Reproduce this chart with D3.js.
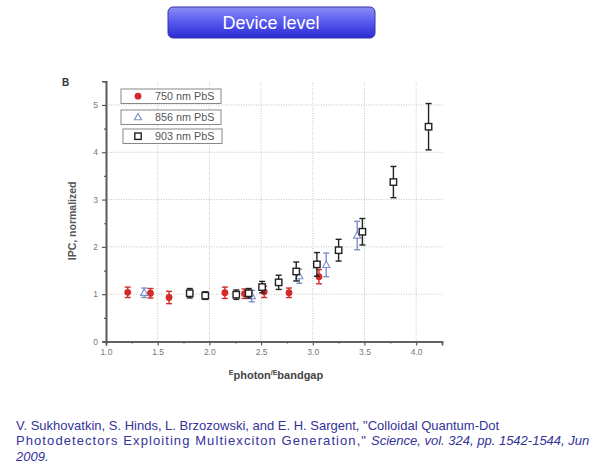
<!DOCTYPE html>
<html><head><meta charset="utf-8">
<script src="https://cdn.jsdelivr.net/npm/d3@7"></script>
<style>
html,body{margin:0;padding:0;background:#fff;}
svg{display:block;}
</style></head>
<body>
<script>
// ---- data ----
const seriesNames = ["750 nm PbS", "856 nm PbS", "903 nm PbS"];
// [x, y, error]
const pbs750 = [[1.21,1.04,0.11],[1.43,1.02,0.10],[1.61,0.93,0.13],[2.15,1.03,0.12],[2.34,1.01,0.10],[2.53,1.05,0.12],[2.77,1.03,0.10],[3.06,1.37,0.15]];
const pbs856 = [[1.37,1.03,0.10],[2.41,0.96,0.12],[2.87,1.38,0.15],[3.13,1.62,0.25],[3.43,2.24,0.30]];
const pbs903 = [[1.81,1.02,0.10],[1.96,0.97,0.08],[2.26,0.99,0.10],[2.38,1.02,0.10],[2.51,1.15,0.12],[2.67,1.25,0.15],[2.84,1.48,0.20],[3.04,1.63,0.25],[3.25,1.93,0.23],[3.48,2.32,0.28],[3.78,3.37,0.33],[4.12,4.54,0.49]];
const xTicks = [1.0,1.5,2.0,2.5,3.0,3.5,4.0];
const yTicks = [0,1,2,3,4,5];
const titleText = "Device level";
const citeLine1 = "V. Sukhovatkin, S. Hinds, L. Brzozowski, and E. H. Sargent, \"Colloidal Quantum-Dot";
const citeLine2a = "Photodetectors Exploiting Multiexciton Generation,\"";
const citeLine2b = "Science, vol. 324, pp. 1542-1544, Jun";
const citeLine3 = "2009.";

const W = 598, H = 468;
const svg = d3.select("body").append("svg").attr("width", W).attr("height", H);
const defs = svg.append("defs");
const grad = defs.append("linearGradient").attr("id","btn").attr("x1",0).attr("y1",0).attr("x2",0).attr("y2",1);
grad.append("stop").attr("offset","0%").attr("stop-color","#8c8ef8");
grad.append("stop").attr("offset","45%").attr("stop-color","#5b5df0");
grad.append("stop").attr("offset","100%").attr("stop-color","#2a2ad2");

const font = "Liberation Sans, Arial, sans-serif";

// title button
svg.append("rect").attr("x",168).attr("y",7).attr("width",207).attr("height",31).attr("rx",5)
  .attr("fill","url(#btn)").attr("stroke","#3535a8").attr("stroke-width",1);
svg.append("text").attr("x",271).attr("y",29).attr("text-anchor","middle")
  .attr("font-family",font).attr("font-size",18).attr("fill","#ffffff")
  .text(titleText);

// scales
const x = d3.scaleLinear().domain([1.0, 4.25]).range([106, 442]);
const y = d3.scaleLinear().domain([0, 5.5]).range([341.5, 81.3]);

const g = svg.append("g");
// grid
g.selectAll(".gx").data(xTicks.filter(d=>d>1)).enter().append("line")
  .attr("x1",d=>x(d)).attr("x2",d=>x(d)).attr("y1",y(0)).attr("y2",y(5.5))
  .attr("stroke","#c4c4c4").attr("stroke-width",1).attr("stroke-dasharray","1,1.5");
g.selectAll(".gy").data(yTicks.filter(d=>d>0)).enter().append("line")
  .attr("x1",x(1)).attr("x2",x(4.25)).attr("y1",d=>y(d)).attr("y2",d=>y(d))
  .attr("stroke","#c4c4c4").attr("stroke-width",1).attr("stroke-dasharray","1,1.5");

// axes
const xAxis = g.append("g").attr("transform",`translate(0,${y(0)})`)
  .call(d3.axisBottom(x).tickValues(xTicks).tickFormat(d3.format(".1f")).tickSize(4).tickPadding(3));
const xMinor = g.append("g").attr("transform",`translate(0,${y(0)})`)
  .call(d3.axisBottom(x).tickValues(d3.range(1.25,4.3,0.5)).tickFormat("").tickSize(2));
const yAxis = g.append("g").attr("transform",`translate(${x(1)},0)`)
  .call(d3.axisLeft(y).tickValues(yTicks).tickFormat(d3.format("d")).tickSize(4).tickPadding(4));
const yMinor = g.append("g").attr("transform",`translate(${x(1)},0)`)
  .call(d3.axisLeft(y).tickValues(d3.range(0.5,5.5,1)).tickFormat("").tickSize(2));
[xAxis,xMinor,yAxis,yMinor].forEach(a=>{
  a.select(".domain").attr("stroke","#5a5a5a").attr("stroke-width",1.6);
  a.selectAll(".tick line").attr("stroke","#5a5a5a").attr("stroke-width",1.2);
  a.selectAll("text").attr("font-family",font).attr("font-size",8.5).attr("fill","#777");
});

// axis labels
svg.append("text").attr("transform",`translate(76,${y(2.55)}) rotate(-90)`).attr("text-anchor","middle")
  .attr("font-family",font).attr("font-size",10.5).attr("font-weight","bold").attr("fill","#555")
  .text("IPC, normalized");
const xl = svg.append("text").attr("x",276).attr("y",379).attr("text-anchor","middle")
  .attr("font-family",font).attr("font-weight","bold").attr("fill","#444").attr("font-size",11);
xl.append("tspan").attr("font-size",7).attr("dy",-4).text("E");
xl.append("tspan").attr("dy",4).text("photon");
xl.append("tspan").attr("font-size",7).attr("dy",-4).text("/E");
xl.append("tspan").attr("dy",4).text("bandgap");

svg.append("text").attr("x",62).attr("y",86).attr("font-family",font).attr("font-size",10)
  .attr("font-weight","bold").attr("fill","#333").text("B");

// data
const series = [
  {data:pbs750, color:"#d42a2a", shape:"circle"},
  {data:pbs856, color:"#7d8ec8", shape:"triangle"},
  {data:pbs903, color:"#222222", shape:"square"}
];
function drawMarker(sel, shape, color, cx, cy){
  if(shape==="circle"){
    sel.append("circle").attr("cx",cx).attr("cy",cy).attr("r",3.4).attr("fill",color);
  } else if(shape==="square"){
    sel.append("rect").attr("x",cx-3.2).attr("y",cy-3.2).attr("width",6.4).attr("height",6.4)
      .attr("fill","#fff").attr("stroke",color).attr("stroke-width",1.4);
  } else {
    sel.append("path").attr("d",`M${cx},${cy-3.8}L${cx+3.6},${cy+2.6}L${cx-3.6},${cy+2.6}Z`)
      .attr("fill","#fff").attr("stroke",color).attr("stroke-width",1.1);
  }
}
series.forEach(s=>{
  const sg = g.append("g");
  s.data.forEach(([dx,dy,e])=>{
    const cx = x(dx);
    sg.append("line").attr("x1",cx).attr("x2",cx).attr("y1",y(dy-e)).attr("y2",y(dy+e))
      .attr("stroke",s.color).attr("stroke-width",1.4);
    [dy-e,dy+e].forEach(v=>sg.append("line").attr("x1",cx-3).attr("x2",cx+3).attr("y1",y(v)).attr("y2",y(v))
      .attr("stroke",s.color).attr("stroke-width",1.4));
    drawMarker(sg, s.shape, s.color, cx, y(dy));
  });
});

// legend boxes
const legBoxes = [{x:121,y:89,w:100},{x:121,y:110,w:100},{x:123,y:129,w:99}];
series.forEach((s,i)=>{
  const b = legBoxes[i];
  svg.append("rect").attr("x",b.x).attr("y",b.y).attr("width",b.w).attr("height",14.5)
    .attr("fill","#fff").attr("stroke","#888").attr("stroke-width",1);
  drawMarker(svg, s.shape, s.color, 138, b.y+7.2);
  svg.append("text").attr("x",155).attr("y",b.y+11.3).attr("font-family",font).attr("font-size",10.8)
    .attr("fill","#555").text(seriesNames[i]);
});

// citation
const citeColor = "#33339a";
const cite = svg.append("g").attr("font-family",font).attr("font-size",13).attr("fill",citeColor);
cite.append("text").attr("x",16).attr("y",430).text(citeLine1);
cite.append("text").attr("x",16).attr("y",445).attr("textLength",350).attr("lengthAdjust","spacing").text(citeLine2a);
cite.append("text").attr("x",371).attr("y",445).attr("font-style","italic").text(citeLine2b);
cite.append("text").attr("x",16).attr("y",461).attr("font-style","italic").text(citeLine3);
</script>
</body></html>
